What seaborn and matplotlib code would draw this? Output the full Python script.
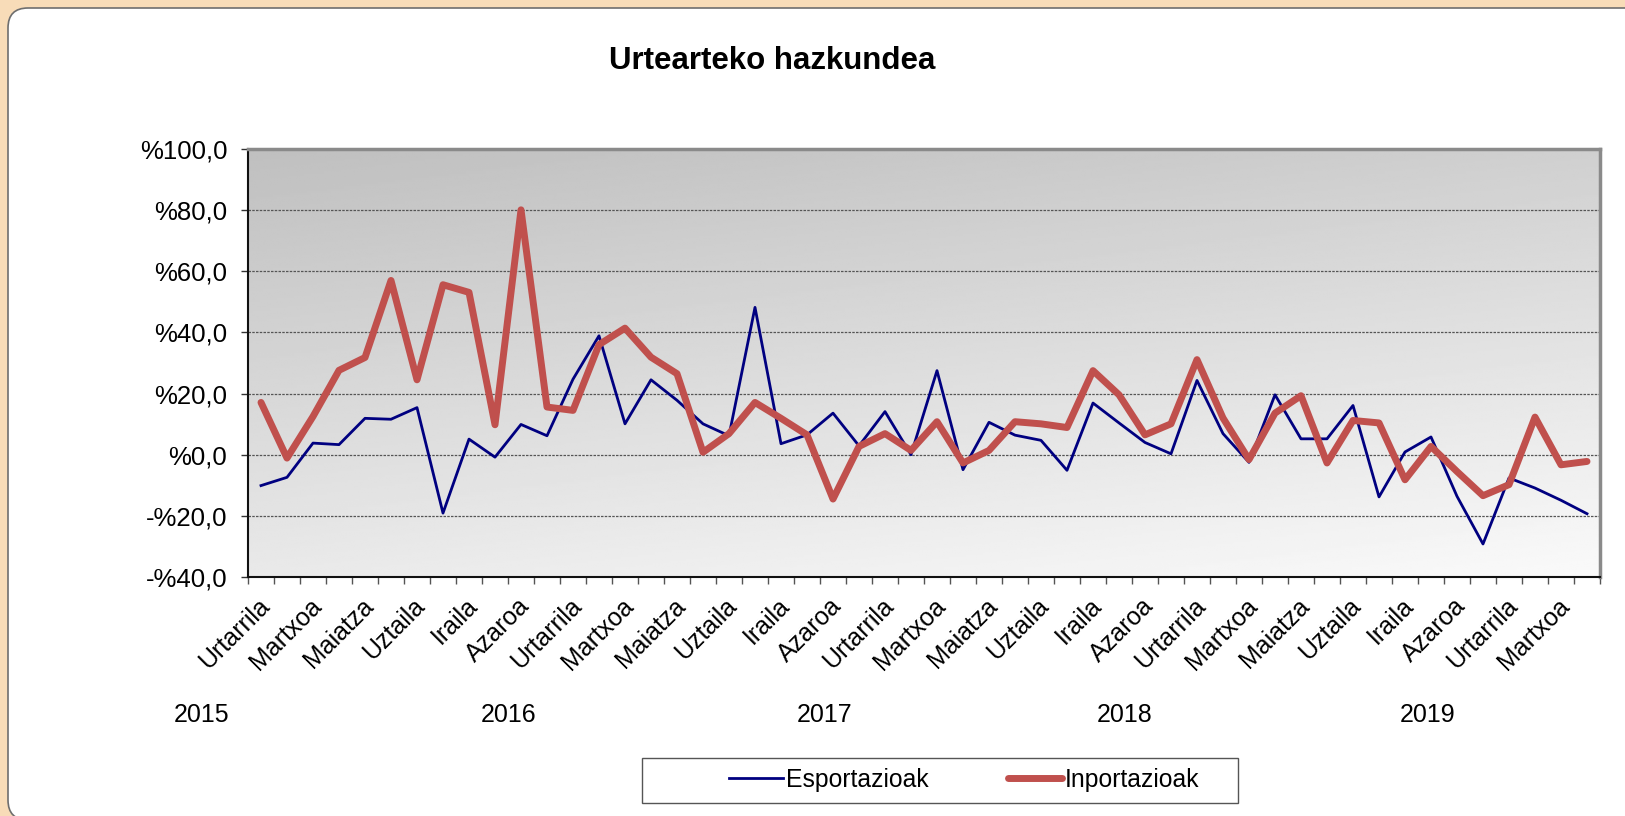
import numpy as np
import pandas as pd
import matplotlib
matplotlib.use("Agg")
import matplotlib.pyplot as plt
import seaborn as sns
from matplotlib.patches import FancyBboxPatch, Rectangle
from matplotlib.lines import Line2D
from matplotlib.ticker import FuncFormatter
import matplotlib.transforms as mtransforms

# ---------------- data ----------------
months = ["Urtarrila", "Otsaila", "Martxoa", "Apirila", "Maiatza", "Ekaina",
          "Uztaila", "Abuztua", "Iraila", "Urria", "Azaroa", "Abendua"]
years = ["2015", "2016", "2017", "2018", "2019"]

esportazioak = [-10.1, -7.4, 3.8, 3.3, 11.9, 11.6, 15.4, -19.1, 5.1, -0.8, 9.9, 6.2,
                24.7, 38.9, 10.1, 24.5, 17.8, 10.1, 6.2, 48.2, 3.6, 6.5, 13.6, 2.9,
                14.1, 0.0, 27.5, -4.9, 10.6, 6.4, 4.7, -5.1, 16.9, 10.4, 4.0, 0.3,
                24.3, 6.9, -2.5, 19.6, 5.2, 5.2, 16.1, -13.8, 0.9, 5.8, -13.6, -29.2,
                -7.6, -10.9, -14.9, -19.3]
inportazioak = [17.1, -1.1, 12.5, 27.6, 31.8, 57.0, 24.5, 55.6, 53.1, 9.8, 80.1, 15.6,
                14.5, 36.0, 41.4, 31.9, 26.5, 0.8, 6.9, 17.1, 11.9, 6.5, -14.5, 2.7,
                6.9, 1.4, 10.8, -2.7, 1.4, 10.8, 10.1, 8.9, 27.5, 19.6, 6.5, 10.1,
                31.1, 12.0, -1.6, 13.6, 19.3, -2.7, 11.2, 10.4, -8.2, 2.7, -5.5, -13.4,
                -9.8, 12.3, -3.3, -2.2]
series_names = ["Esportazioak", "Inportazioak"]
yticks = [-40, -20, 0, 20, 40, 60, 80, 100]

n = len(esportazioak)
period_labels = [months[i % 12] for i in range(n)]
df = pd.DataFrame({"idx": np.arange(n), "period": period_labels,
                   "Esportazioak": esportazioak, "Inportazioak": inportazioak})

# ---------------- figure ----------------
W, H = 1625, 816
plt.rcParams["font.family"] = ["Liberation Sans", "DejaVu Sans"]
fig = plt.figure(figsize=(W / 100, H / 100), dpi=100)
fig.patch.set_facecolor("#F8DCB8")

def px(x, y):
    return x / W, 1 - y / H

panel = FancyBboxPatch((8 / 100, -4 / 100), (W + 20 - 8) / 100, (H - 8 + 4) / 100,
                       boxstyle="round,pad=0,rounding_size=0.2",
                       transform=fig.dpi_scale_trans, facecolor="white",
                       edgecolor="#6e6e6e", linewidth=1.2, zorder=-10)
fig.patches.append(panel)

ax_left, ax_right, ax_top, ax_bottom = 248, 1600, 149, 577
ax = fig.add_axes([ax_left / W, 1 - ax_bottom / H, (ax_right - ax_left) / W,
                   (ax_bottom - ax_top) / H])
ax.set_zorder(2)

# gradient background
gh, gw = 200, 400
v = np.linspace(0, 1, gh)[:, None]
u = np.linspace(0, 1, gw)[None, :]
grad = 0.75 + 0.23 * (0.72 * v + 0.28 * u)
ax.imshow(grad, extent=(-0.5, n - 0.5, -40, 100), aspect="auto", cmap="gray",
          vmin=0, vmax=1, zorder=0, interpolation="bilinear")

for yv in yticks[1:-1]:
    ax.axhline(yv, color="#555555", lw=0.9, ls=(0, (2, 1)), zorder=1)

sns.lineplot(data=df, x="idx", y="Esportazioak", ax=ax, color="#000080",
             lw=2.0, zorder=3, legend=False)
sns.lineplot(data=df, x="idx", y="Inportazioak", ax=ax, color="#C0504D",
             lw=5.0, zorder=4, legend=False, solid_capstyle="round")

ax.set_xlim(-0.5, n - 0.5)
ax.set_ylim(-40, 100)
ax.set_xlabel("")
ax.set_ylabel("")

ax.set_yticks(yticks)
ax.yaxis.set_major_formatter(FuncFormatter(
    lambda val, p: ("-" if val < 0 else "") + "%" + f"{abs(val):.1f}".replace(".", ",")))
ax.tick_params(axis="y", direction="out", length=5, width=1, color="#333333",
               labelsize=18.5, pad=10)

ax.set_xticks(np.arange(-0.5, n, 1.0))
ax.set_xticklabels([])
ax.tick_params(axis="x", which="major", direction="out", length=5, width=1,
               color="#555555")
lab_pos = np.arange(0, n, 2)
ax.set_xticks(lab_pos, minor=True)
ax.set_xticklabels([period_labels[i] for i in lab_pos], minor=True,
                   rotation=45, ha="right", rotation_mode="anchor", fontsize=18)
ax.tick_params(axis="x", which="minor", length=0, pad=12)
shift = mtransforms.ScaledTranslation(-4 / 100, 0, fig.dpi_scale_trans)
for lab in ax.get_xticklabels(minor=True):
    lab.set_transform(lab.get_transform() + shift)

for s in ["left", "bottom"]:
    ax.spines[s].set_color("#111111")
    ax.spines[s].set_linewidth(1.5)
for s in ["top", "right"]:
    ax.spines[s].set_color("#8a8a8a")
    ax.spines[s].set_linewidth(2.5)

# title
fig.text(*px(772, 61), "Urtearteko hazkundea", ha="center", va="center",
         fontsize=22.5, fontweight="bold")

# year labels
year_x_px = [202, 509, 825, 1125, 1428]
for yl, xp in zip(years, year_x_px):
    fig.text(*px(xp, 715), yl, ha="center", va="center", fontsize=18)

# legend
handles = [Line2D([], [], color="#000080", lw=2.0),
           Line2D([], [], color="#C0504D", lw=5.0, solid_capstyle="round")]
fig.legend(handles, series_names, loc="center", bbox_to_anchor=px(964, 780),
           ncol=2, frameon=False, handlelength=2.2, handletextpad=0.1,
           columnspacing=3.2, fontsize=17.8)
box = Rectangle(px(642, 803), (1238 - 642) / W, 45 / H, transform=fig.transFigure,
                fill=False, edgecolor="#555555", lw=1.0)
fig.patches.append(box)

fig.savefig("out.png", dpi=100, facecolor=fig.get_facecolor())
